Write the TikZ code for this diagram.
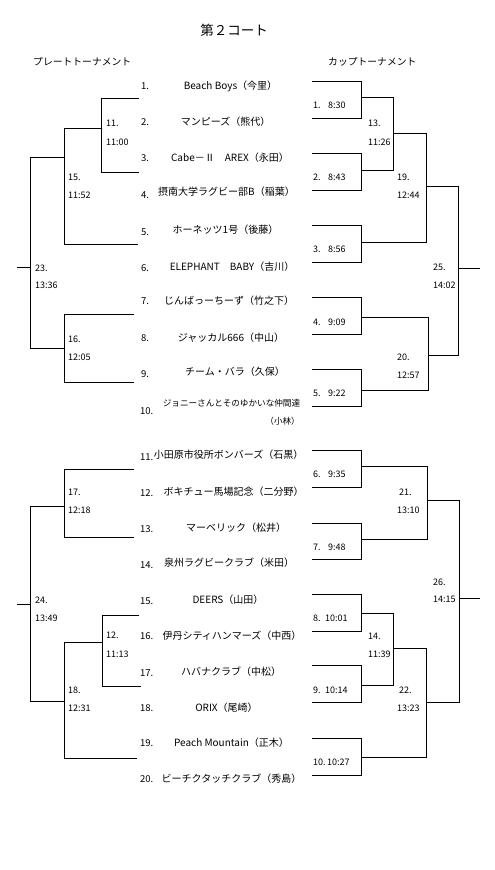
\documentclass[tikz,border=0pt]{standalone}
\usepackage{fontspec}
\setmainfont{Noto Sans CJK JP}
\begin{document}
\begin{tikzpicture}[x=1pt,y=-1pt,
  br/.style={line width=1pt,line cap=rect},
  title/.style={inner sep=0pt,font=\fontsize{13.5}{15}\selectfont},
  head/.style={inner sep=0pt,font=\fontsize{9.8}{12}\selectfont},
  team/.style={inner sep=0pt,font=\fontsize{10}{12}\selectfont},
  num/.style={anchor=west,inner sep=0pt,font=\fontsize{9.5}{11}\selectfont},
  lab/.style={anchor=west,inner sep=0pt,font=\fontsize{9}{11}\selectfont}]
\useasboundingbox (0,0) rectangle (495,870);
% titles
\node[title] (title) at (234,30) {第２コート};
\node[head,anchor=west] (plate) at (33,62) {プレートトーナメント};
\node[head,anchor=west] (cup) at (328,62) {カップトーナメント};
% team numbers
\node[num] (n1) at (141,86) {1.};
\node[num] (n2) at (141,122) {2.};
\node[num] (n3) at (141,158) {3.};
\node[num] (n4) at (141,195) {4.};
\node[num] (n5) at (141,232) {5.};
\node[num] (n6) at (141,268) {6.};
\node[num] (n7) at (141,301) {7.};
\node[num] (n8) at (141,338) {8.};
\node[num] (n9) at (141,374) {9.};
\node[num] (n10) at (140,411) {10.};
\node[num] (n11) at (140,457) {11.};
\node[num] (n12) at (140,493) {12.};
\node[num] (n13) at (140,529) {13.};
\node[num] (n14) at (140,565) {14.};
\node[num] (n15) at (140,601) {15.};
\node[num] (n16) at (140,636) {16.};
\node[num] (n17) at (140,673) {17.};
\node[num] (n18) at (140,708) {18.};
\node[num] (n19) at (140,743) {19.};
\node[num] (n20) at (140,779) {20.};
% team names
\node[team] (t1) at (230.5,86) {Beach Boys（今里）};
\node[team] (t2) at (225.5,122) {マンピーズ（熊代）};
\node[team] (t3) at (230,158) {Cabe－Ⅱ　AREX（永田）};
\node[team] (t4) at (226.5,192) {摂南大学ラグビー部B（稲葉）};
\node[team] (t5) at (225.5,230) {ホーネッツ1号（後藤）};
\node[team] (t6) at (232,267) {ELEPHANT　BABY（吉川）};
\node[team] (t7) at (229,301) {じんばっーちーず（竹之下）};
\node[team] (t8) at (231,338) {ジャッカル666（中山）};
\node[team] (t9) at (235,372) {チーム・バラ（久保）};
\node[team,font=\fontsize{8.6}{10}\selectfont] (t10) at (231.5,403) {ジョニーさんとそのゆかいな仲間達};
\node[team,anchor=east,font=\fontsize{8.6}{10}\selectfont] (t10b) at (300,421) {（小林）};
\node[team] (t11) at (228.5,455) {小田原市役所ボンバーズ（石黒）};
\node[team] (t12) at (233.5,492) {ボキチュー馬場記念（二分野）};
\node[team] (t13) at (236,528) {マーベリック（松井）};
\node[team] (t14) at (229,563) {泉州ラグビークラブ（米田）};
\node[team] (t15) at (228,600) {DEERS（山田）};
\node[team] (t16) at (232,636) {伊丹シティハンマーズ（中西）};
\node[team] (t17) at (231,672) {ハバナクラブ（中松）};
\node[team] (t18) at (226.5,708) {ORIX（尾崎）};
\node[team] (t19) at (231.5,743) {Peach Mountain（正木）};
\node[team] (t20) at (231.5,779) {ビーチクタッチクラブ（秀島）};
% ---------- plate (left) bracket ----------
\coordinate (L11a) at (138,98);  \coordinate (L11b) at (138,172);
\coordinate (L11v) at (101,128);
\draw[br] (L11a) -- (101,98) -- (101,172) -- (L11b);
\draw[br] (L11v) -- (64,128) -- (64,244) -- (137,244);
\draw[br] (64,157) -- (30,157) -- (30,348) -- (64,348);
\coordinate (L23o) at (17,267);
\draw[br] (L23o) -- (30,267);
\draw[br] (133,314) -- (64,314) -- (64,382) -- (133,382);
\draw[br] (133,469) -- (64,469) -- (64,537) -- (133,537);
\draw[br] (64,506) -- (30,506) -- (30,701) -- (64,701);
\coordinate (L24o) at (17,604);
\draw[br] (L24o) -- (30,604);
\draw[br] (138,615) -- (102,615) -- (102,686) -- (140,686);
\draw[br] (102,642) -- (64,642) -- (64,758) -- (136,758);
% plate labels
\node[lab] (p11) at (106,123) {11.};  \node[lab] (p11t) at (106,142) {11:00};
\node[lab] (p15) at (68,177) {15.};   \node[lab] (p15t) at (68,195) {11:52};
\node[lab] (p23) at (35,268) {23.};   \node[lab] (p23t) at (35,285) {13:36};
\node[lab] (p16) at (68,339) {16.};   \node[lab] (p16t) at (68,357) {12:05};
\node[lab] (p17) at (68,492) {17.};   \node[lab] (p17t) at (68,510) {12:18};
\node[lab] (p24) at (35,600) {24.};   \node[lab] (p24t) at (35,618) {13:49};
\node[lab] (p12) at (106,635) {12.};  \node[lab] (p12t) at (106,654) {11:13};
\node[lab] (p18) at (68,690) {18.};   \node[lab] (p18t) at (68,708) {12:31};
% ---------- cup (right) bracket ----------
\foreach \a/\b in {81/118,153/190,225/262,297/334,369/406,450/487,523/559,594/631,665/702,738/775}
  \draw[br] (312,\a) -- (361,\a) -- (361,\b) -- (312,\b);
\draw[br] (361,97) -- (393,97) -- (393,170) -- (361,170);
\draw[br] (393,133) -- (426,133) -- (426,242) -- (361,242);
\draw[br] (426,186) -- (458,186) -- (458,355) -- (428,355);
\coordinate (R25o) at (479,268);
\draw[br] (458,268) -- (R25o);
\draw[br] (361,317) -- (428,317) -- (428,390) -- (361,390);
\draw[br] (361,466) -- (427,466) -- (427,539) -- (361,539);
\draw[br] (427,500) -- (459,500) -- (459,702) -- (426,702);
\coordinate (R26o) at (479,598);
\draw[br] (459,598) -- (R26o);
\draw[br] (361,613) -- (393,613) -- (393,685) -- (361,685);
\draw[br] (393,648) -- (426,648) -- (426,757) -- (361,757);
% first round labels
\node[lab] (c1) at (313,105) {1.};  \node[lab] (c1t) at (328,105) {8:30};
\node[lab] (c2) at (313,177) {2.};  \node[lab] (c2t) at (328,177) {8:43};
\node[lab] (c3) at (313,249) {3.};  \node[lab] (c3t) at (328,249) {8:56};
\node[lab] (c4) at (313,322) {4.};  \node[lab] (c4t) at (328,322) {9:09};
\node[lab] (c5) at (313,393) {5.};  \node[lab] (c5t) at (328,393) {9:22};
\node[lab] (c6) at (313,474) {6.};  \node[lab] (c6t) at (328,474) {9:35};
\node[lab] (c7) at (313,547) {7.};  \node[lab] (c7t) at (328,547) {9:48};
\node[lab] (c8) at (313,618) {8.};  \node[lab] (c8t) at (325,618) {10:01};
\node[lab] (c9) at (313,690) {9.};  \node[lab] (c9t) at (325,690) {10:14};
\node[lab] (c10) at (313,762) {10.}; \node[lab] (c10t) at (327,762) {10:27};
% later round labels
\node[lab] (c13) at (368,123) {13.};  \node[lab] (c13t) at (368,142) {11:26};
\node[lab] (c19) at (397,177) {19.};  \node[lab] (c19t) at (397,195) {12:44};
\node[lab] (c25) at (433,267) {25.};  \node[lab] (c25t) at (433,285) {14:02};
\node[lab] (c20) at (397,357) {20.};  \node[lab] (c20t) at (397,375) {12:57};
\node[lab] (c21) at (399,492) {21.};  \node[lab] (c21t) at (397,510) {13:10};
\node[lab] (c26) at (433,582) {26.};  \node[lab] (c26t) at (433,599) {14:15};
\node[lab] (c14) at (368,636) {14.};  \node[lab] (c14t) at (368,654) {11:39};
\node[lab] (c22) at (399,690) {22.};  \node[lab] (c22t) at (397,708) {13:23};
\end{tikzpicture}
\end{document}
